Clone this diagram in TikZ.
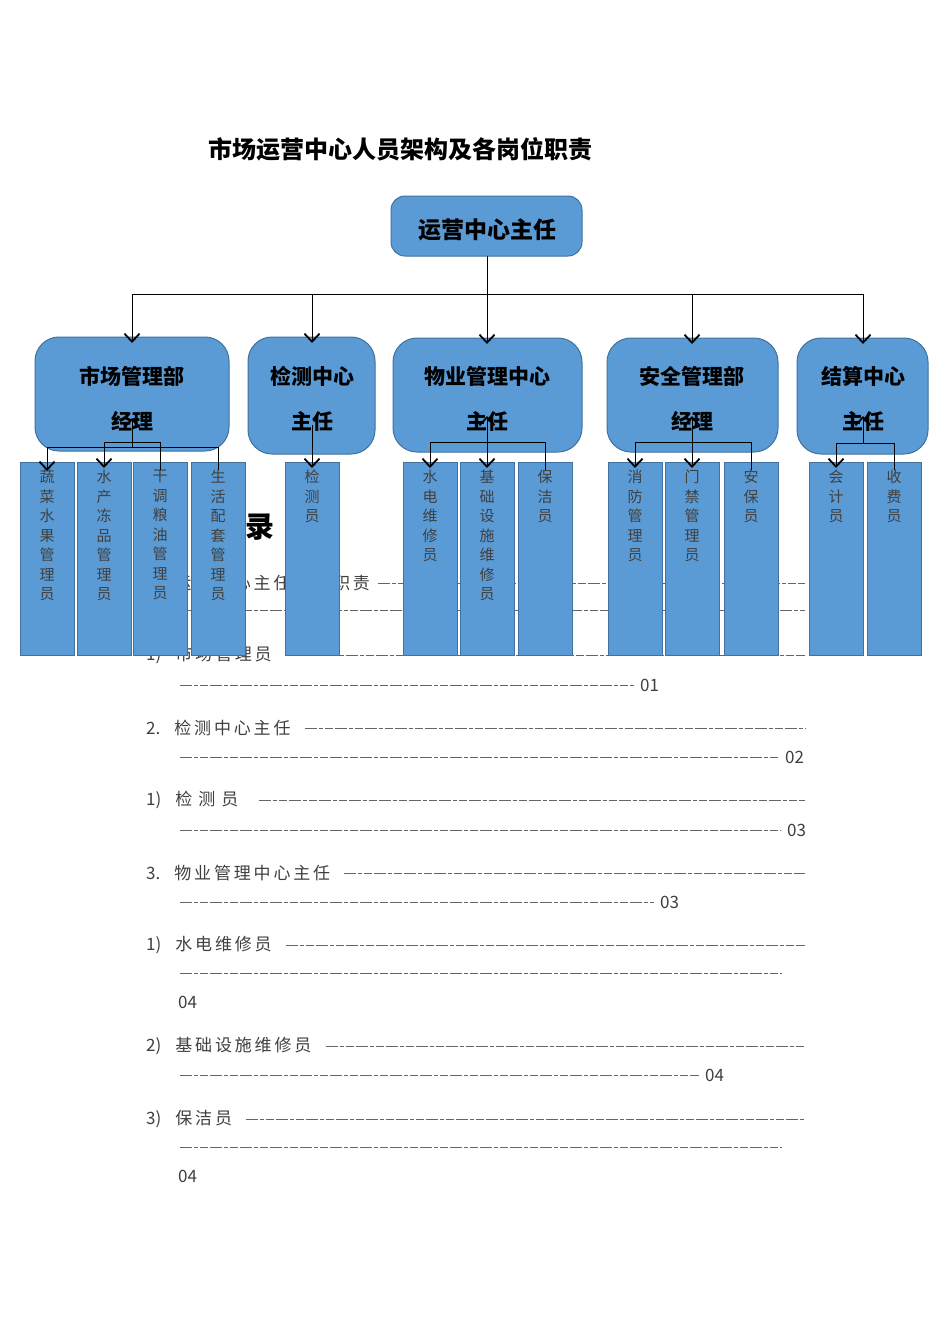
\documentclass[tikz,border=0pt]{standalone}
\usepackage{fontspec}
\setmainfont{Noto Sans CJK SC}
\usetikzlibrary{arrows.meta}
\definecolor{boxfill}{HTML}{5B9BD5}
\definecolor{boxline}{HTML}{41719C}
\definecolor{toc}{HTML}{404040}
\tikzset{
  mgr/.style={draw=boxline,fill=boxfill,line width=1pt,rounded corners=24pt},
  staffbox/.style={draw=boxline,fill=boxfill,line width=1pt},
  stafftext/.style={anchor=north,align=center,font=\fontsize{15}{19.5}\selectfont,text=black!75,inner sep=0pt},
  mtext/.style={font=\fontsize{21}{21}\selectfont\bfseries},
  tline/.style={anchor=west,font=\fontsize{17}{17}\selectfont,text=toc,inner sep=0pt},
  fill line/.style={toc!80,line width=1pt,dash pattern=on 12pt off 2pt on 4pt off 2pt on 8pt off 2pt},
  conn/.style={line width=0.8pt},
  arr/.style={-{Straight Barb[length=8pt,width=15pt,line width=1.8pt]}},
  arrup/.style={-{Straight Barb[length=8pt,width=15pt,line width=1.8pt]}}
}
\begin{document}
\begin{tikzpicture}[x=1pt,y=-1pt]
\useasboundingbox[fill=white] (0,0) rectangle (950,1344);
% title
\node[font=\fontsize{24}{24}\selectfont\bfseries] (title) at (400,149) {市场运营中心人员架构及各岗位职责};
% TOC
\node[font=\fontsize{29}{29}\selectfont\bfseries,anchor=west,inner sep=0pt] (mulu) at (196,527) {目\hspace{20pt}录};
\node[tline] (t1) at (146,583) {1.\hspace{14pt}运\,营\,中\,心\,主\,任\,岗\,位\,职\,责};
\coordinate (t1e) at (805,583);
\draw[fill line] (t1.east) ++(8,0) -- (t1e);
\coordinate (t1b) at (180,610); \coordinate (t1c) at (805,610);
\draw[fill line] (t1b) -- (t1c);
\node[tline] (t2) at (146,655) {1)\hspace{14pt}市\,场\,管\,理\,员};
\coordinate (t2e) at (805,655);
\draw[fill line] (t2.east) ++(14,0) -- (t2e);
\coordinate (t2b) at (180,685);
\node[tline] (n2) at (640,685) {01};
\draw[fill line] (t2b) -- ([xshift=-6pt]n2.west);
\node[tline] (t3) at (146,728) {2.\hspace{14pt}检\,测\,中\,心\,主\,任};
\coordinate (t3e) at (805,728);
\draw[fill line] (t3.east) ++(14,0) -- (t3e);
\coordinate (t3b) at (180,757);
\node[tline] (n3) at (785,757) {02};
\draw[fill line] (t3b) -- ([xshift=-6pt]n3.west);
\node[tline] (t4) at (146,800) {1)\hspace{14pt}检\hspace{6pt}测\hspace{6pt}员};
\coordinate (t4e) at (805,800);
\draw[fill line] (t4.east) ++(20,0) -- (t4e);
\coordinate (t4b) at (180,830);
\node[tline] (n4) at (787,830) {03};
\draw[fill line] (t4b) -- ([xshift=-6pt]n4.west);
\node[tline] (t5) at (146,873) {3.\hspace{14pt}物\,业\,管\,理\,中\,心\,主\,任};
\coordinate (t5e) at (805,873);
\draw[fill line] (t5.east) ++(14,0) -- (t5e);
\coordinate (t5b) at (180,902);
\node[tline] (n5) at (660,902) {03};
\draw[fill line] (t5b) -- ([xshift=-6pt]n5.west);
\node[tline] (t6) at (146,945) {1)\hspace{14pt}水\,电\,维\,修\,员};
\coordinate (t6e) at (805,945);
\draw[fill line] (t6.east) ++(14,0) -- (t6e);
\coordinate (t6b) at (180,973); \coordinate (t6c) at (782,973);
\draw[fill line] (t6b) -- (t6c);
\node[tline] (n6) at (178,1002) {04};
\node[tline] (t7) at (146,1046) {2)\hspace{14pt}基\,础\,设\,施\,维\,修\,员};
\coordinate (t7e) at (805,1046);
\draw[fill line] (t7.east) ++(14,0) -- (t7e);
\coordinate (t7b) at (180,1075);
\node[tline] (n7) at (705,1075) {04};
\draw[fill line] (t7b) -- ([xshift=-6pt]n7.west);
\node[tline] (t8) at (146,1119) {3)\hspace{14pt}保\,洁\,员};
\coordinate (t8e) at (805,1119);
\draw[fill line] (t8.east) ++(14,0) -- (t8e);
\coordinate (t8b) at (180,1147); \coordinate (t8c) at (782,1147);
\draw[fill line] (t8b) -- (t8c);
\node[tline] (n8) at (178,1176) {04};
% root
\draw[mgr,rounded corners=14pt] (391,196) rectangle (582,256);
\node[font=\fontsize{23}{23}\selectfont\bfseries] (root) at (487,230) {运营中心主任};
\coordinate (rootb) at (487,256);
% managers
\draw[mgr] (35,337) rectangle (229,451);
\draw[mgr] (248,337) rectangle (375,454);
\draw[mgr] (393,338) rectangle (582,452);
\draw[mgr] (607,338) rectangle (778,452);
\draw[mgr] (797,338) rectangle (928,454);
\node[mtext] (mA) at (132,376) {市场管理部}; \node[mtext] (mA2) at (132,421) {经理};
\node[mtext] (mB) at (312,376) {检测中心}; \node[mtext] (mB2) at (312,421) {主任};
\node[mtext] (mC) at (487,376) {物业管理中心}; \node[mtext] (mC2) at (487,421) {主任};
\node[mtext] (mD) at (692,376) {安全管理部}; \node[mtext] (mD2) at (692,421) {经理};
\node[mtext] (mE) at (863,376) {结算中心}; \node[mtext] (mE2) at (863,421) {主任};
% staff
\foreach \x/\n in {47/A1,104/A2,160/A3,218/A4,312/B1,430/C1,487/C2,545/C3,635/D1,692/D2,751/D3,836/E1,894/E2}{
  \draw[staffbox] (\x-27,462) rectangle (\x+27,655);
  \coordinate (s\n) at (\x,462);
}
\node[stafftext] (tA1) at (47,470) {蔬\\菜\\水\\果\\管\\理\\员};
\node[stafftext] (tA2) at (104,470) {水\\产\\冻\\品\\管\\理\\员};
\node[stafftext] (tA3) at (160,470) {干\\调\\粮\\油\\管\\理\\员};
\node[stafftext] (tA4) at (218,470) {生\\活\\配\\套\\管\\理\\员};
\node[stafftext] (tB1) at (312,470) {检\\测\\员};
\node[stafftext] (tC1) at (430,470) {水\\电\\维\\修\\员};
\node[stafftext] (tC2) at (487,470) {基\\础\\设\\施\\维\\修\\员};
\node[stafftext] (tC3) at (545,470) {保\\洁\\员};
\node[stafftext] (tD1) at (635,470) {消\\防\\管\\理\\员};
\node[stafftext] (tD2) at (692,470) {门\\禁\\管\\理\\员};
\node[stafftext] (tD3) at (751,470) {安\\保\\员};
\node[stafftext] (tE1) at (836,470) {会\\计\\员};
\node[stafftext] (tE2) at (894,470) {收\\费\\员};
% top tree
\coordinate (bus) at (487,294);
\draw[conn] (rootb) -- (bus);
\draw[conn] (132,294) -- (863,294);
\foreach \x/\y in {132/337,312/337,487/338,692/338,863/338}
  \draw[conn,arr] (\x,294) -- (\x,\y+6);
% group A
\draw[conn,arrup] (132,447) -- (132,418);
\draw[conn] (47,447) -- (218,447);
\draw[conn] (104,442) -- (160,442);
\draw[conn,arr] (47,447) -- (47,471);
\draw[conn,arr] (104,442) -- (104,468);
\draw[conn] (160,442) -- (160,470);
\draw[conn] (218,447) -- (218,470);
% group B
\draw[conn,arr] (312,425) -- (312,468);
% group C
\draw[conn,arrup] (487,442) -- (487,416);
\draw[conn] (430,442) -- (545,442);
\draw[conn,arr] (430,442) -- (430,468);
\draw[conn,arr] (487,442) -- (487,468);
\draw[conn] (545,442) -- (545,470);
% group D
\draw[conn,arrup] (692,442) -- (692,416);
\draw[conn] (635,442) -- (751,442);
\draw[conn,arr] (635,442) -- (635,468);
\draw[conn,arr] (692,442) -- (692,468);
\draw[conn] (751,442) -- (751,470);
% group E
\draw[conn,arrup] (863,443) -- (863,416);
\draw[conn] (836,443) -- (894,443);
\draw[conn,arr] (836,443) -- (836,468);
\draw[conn] (894,443) -- (894,470);
\end{tikzpicture}
\end{document}
